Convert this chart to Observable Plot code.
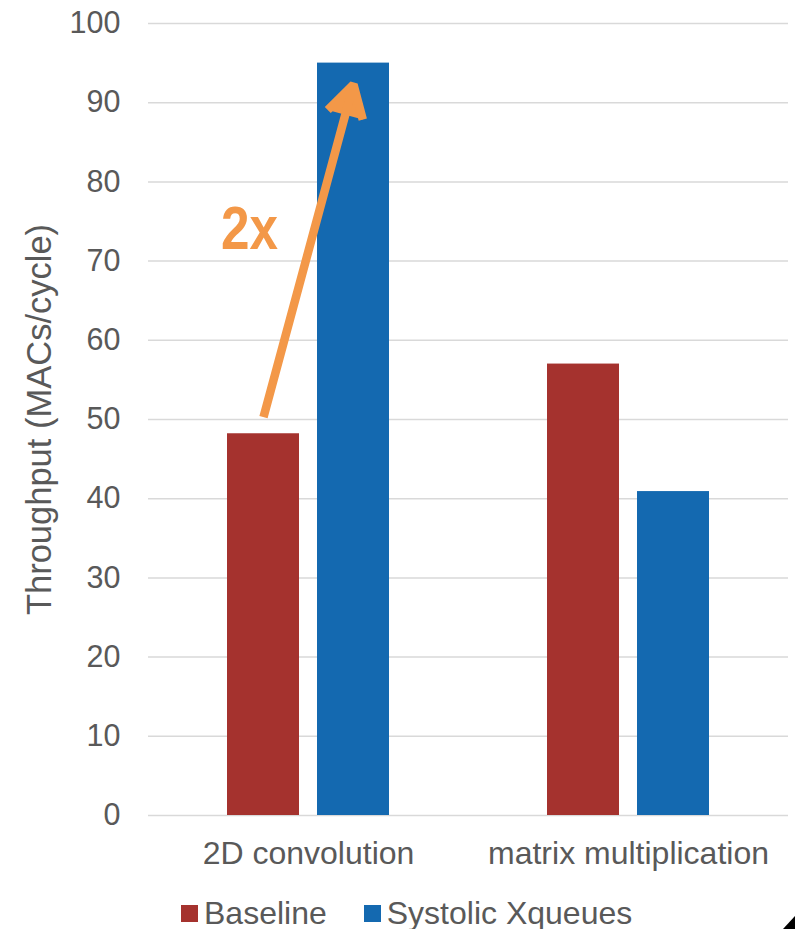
<!DOCTYPE html>
<html>
<head>
<meta charset="utf-8">
<script src="https://cdn.jsdelivr.net/npm/d3@7"></script>
<script src="https://cdn.jsdelivr.net/npm/@observablehq/plot@0.6"></script>
<style>
  html, body { margin: 0; padding: 0; background: #fff; }
  #wrap { position: relative; width: 795px; height: 929px; overflow: hidden; }
  .lg-swatches {
    box-sizing: border-box;
    margin: 0 !important;
    padding-left: 181px;
    padding-top: 17px;
    height: 49px;
    font-family: "Liberation Sans", Arial, sans-serif !important;
    font-size: 32px !important;
    color: #595959;
    display: flex; align-items: center; flex-wrap: nowrap;
  }
  .lg-swatches .lg-swatch { display: inline-flex; align-items: center; margin-right: 37px !important; }
  .lg-swatch > svg { margin-right: 6px !important; }
  #corner {
    position: absolute; right: 0; bottom: 0; width: 0; height: 0;
    border-left: 12px solid transparent; border-bottom: 13px solid #000;
  }
</style>
</head>
<body>
<div id="wrap"></div>
<script>
// ---- data ----
const categories = ["2D convolution", "matrix multiplication"];
const series = ["Baseline", "Systolic Xqueues"];
const baselineValues = [48.2, 57.0];
const systolicValues = [95.0, 40.9];
const seriesColors = ["#A5322E", "#1469B0"];
const yTicks = [0, 10, 20, 30, 40, 50, 60, 70, 80, 90, 100];
const yLabel = "Throughput (MACs/cycle)";
// annotation: arrow from Baseline to Systolic in the 2D convolution group
const arrowCategory = "2D convolution";
const arrowFromValue = 50.3;
const arrowToValue = 92.3;
const annotationText = "2x";
const annotationValue = 74.0;
const annotationColor = "#F39848";

const table = categories.flatMap((c, i) => [
  {category: c, series: series[0], value: baselineValues[i]},
  {category: c, series: series[1], value: systolicValues[i]}
]);
const arrowData = [{category: arrowCategory, from: series[0], to: series[1], y1: arrowFromValue, y2: arrowToValue}];
const labelData = [{category: arrowCategory, series: series[0], value: annotationValue, text: annotationText}];

const chart = Plot.plot({
  width: 795,
  height: 880,
  marginLeft: 148,
  marginRight: 7,
  marginTop: 23,
  marginBottom: 65,
  style: {fontFamily: "'Liberation Sans', Arial, sans-serif", fontSize: "30px", color: "#595959", background: "#fff", overflow: "visible"},
  fx: {domain: categories, padding: 0, label: null},
  x: {domain: series, paddingInner: 0.2, paddingOuter: 0.866, axis: null},
  y: {domain: [0, 100], axis: null},
  color: {domain: series, range: seriesColors},
  marks: [
    Plot.ruleY(yTicks, {stroke: "#D9D9D9", strokeWidth: 1.5}),
    Plot.barY(table, {fx: "category", x: "series", y: "value", fill: "series"}),
    Plot.axisY(yTicks, {anchor: "left", tickSize: 0, tickPadding: 28, label: null, fontSize: 30.5}),
    Plot.axisY([], {anchor: "left", tickSize: 0, label: yLabel, labelAnchor: "center", labelArrow: false, labelOffset: 122, fontSize: 34.5}),
    Plot.axisFx({anchor: "bottom", tickSize: 0, tickPadding: 26, label: null, fontSize: 32}),
    Plot.arrow(arrowData, {
      fx: "category", x1: "from", x2: "to", y1: "y1", y2: "y2",
      stroke: annotationColor, fill: annotationColor, strokeWidth: 8.5,
      strokeLinecap: "butt", headLength: 6.4, headAngle: 60
    }),
    Plot.text(labelData, {
      fx: "category", x: "series", y: "value", text: "text", dx: -14,
      fill: annotationColor, fontSize: 62, fontWeight: "bold",
      fontFamily: "'Liberation Sans', Arial, sans-serif"
    })
  ]
});

// condense the "2x" annotation to match the narrow bold face
d3.select(chart).selectAll("text")
  .filter(function () { return this.textContent === annotationText; })
  .attr("textLength", 57)
  .attr("lengthAdjust", "spacingAndGlyphs");

const legend = Plot.legend({
  color: {domain: series, range: seriesColors},
  legend: "swatches",
  swatchSize: 17,
  className: "lg"
});

const wrap = document.getElementById("wrap");
wrap.appendChild(chart);
wrap.appendChild(legend);
const corner = document.createElement("div");
corner.id = "corner";
wrap.appendChild(corner);
</script>
</body>
</html>
